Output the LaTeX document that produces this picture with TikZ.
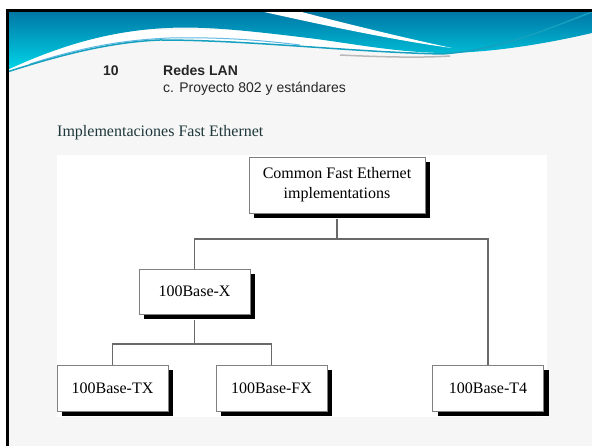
\documentclass[tikz,border=0pt]{standalone}
\usepackage{fontspec}
\setmainfont{Liberation Serif}
\newfontfamily\headfont{Liberation Sans}
\usetikzlibrary{shadows}

\definecolor{slidebg}{RGB}{246,246,246}
\definecolor{bandtop}{RGB}{0,118,165}
\definecolor{bandmid}{RGB}{0,152,206}
\definecolor{bandlow}{RGB}{0,214,232}
\definecolor{wavline}{RGB}{20,160,190}
\definecolor{wavlight}{RGB}{95,185,228}
\definecolor{titlecol}{RGB}{30,55,58}
\definecolor{linkgray}{RGB}{105,105,105}

\tikzset{
  impbox/.style={draw=gray, line width=0.8pt, fill=white, minimum width=111pt,
    minimum height=46pt, inner sep=0pt, font=\fontsize{16}{20}\selectfont,
    drop shadow={shadow xshift=5pt, shadow yshift=-5pt, fill=black, opacity=1}},
  link/.style={draw=linkgray, line width=1.4pt},
  headtext/.style={anchor=base west, inner sep=0pt, text=black!85}
}

\begin{document}
\begin{tikzpicture}[x=1pt, y=-1pt]
\useasboundingbox (0,0) rectangle (592,446);
\fill[white] (0,0) rectangle (592,446);
\fill[slidebg] (7,10) rectangle (592,446);
% header wave
\fill[white] (7,72) .. controls (60,55) and (110,42) .. (160,40)
  .. controls (250,40) and (350,52) .. (442,54) -- (442,30) -- (7,30) -- cycle;
\shade[top color=bandtop, middle color=bandmid, bottom color=bandlow]
  (7,11) -- (592,11) -- (592,33) .. controls (545,44) and (490,53) .. (442,53)
  .. controls (390,52) and (345,42) .. (300,37) .. controls (250,31) and (205,26) .. (167,28)
  .. controls (105,31) and (55,48) .. (7,70) -- cycle;
\fill[white] (262,11.5) .. controls (300,20) and (390,40) .. (452,48)
  .. controls (395,36) and (320,17) .. (300,11.5) -- cycle;
\draw[gray!55, line width=1.5pt] (340,55) .. controls (380,57) and (420,58) .. (450,56);
\draw[wavlight, line width=1pt] (30,64) .. controls (80,48) and (120,40) .. (170,38)
  .. controls (220,37) and (260,40) .. (300,45);
\draw[wavline, line width=1.5pt] (7,72) .. controls (60,55) and (110,42) .. (160,40)
  .. controls (250,40) and (350,52) .. (442,54) .. controls (500,50) and (550,28) .. (592,12);
\draw[black, line width=2.5pt] (7.5,446) -- (7.5,10.5) -- (592,10.5);

\node[headtext, font=\headfont\bfseries\fontsize{14}{16}\selectfont] (num) at (103,75.7) {10};
\node[headtext, font=\headfont\bfseries\fontsize{14}{16}\selectfont] (sect) at (163,75.7) {Redes LAN};
\node[headtext, font=\headfont\fontsize{14}{16}\selectfont] (subsect) at (163,92.7) {c. Proyecto 802 y estándares};
\node[anchor=base west, inner sep=0pt, text=titlecol, font=\fontsize{16}{19}\selectfont] (topic) at (57,136.7) {Implementaciones Fast Ethernet};

\fill[white] (57,155) rectangle (547,417);

\node[impbox, minimum width=176pt, minimum height=56pt, align=center] (common) at (337,185) {Common Fast Ethernet\\implementations};
\node[impbox, minimum height=45pt] (basex) at (194.5,291.5) {100Base-X};
\node[impbox] (basetx) at (112.5,388) {100Base-TX};
\node[impbox] (basefx) at (271.5,388) {100Base-FX};
\node[impbox] (baset4) at (488,388) {100Base-T4};

\coordinate (split1) at (337,239);
\coordinate (split2) at (194.5,344);
\draw[link, shorten <=5.5pt] (common.south) -- (split1);
\draw[link] (basex.north) |- (split1) -| (baset4.north);
\draw[link, shorten <=5.5pt] (basex.south) -- (split2);
\draw[link] (basetx.north) |- (split2) -| (basefx.north);
\end{tikzpicture}
\end{document}
